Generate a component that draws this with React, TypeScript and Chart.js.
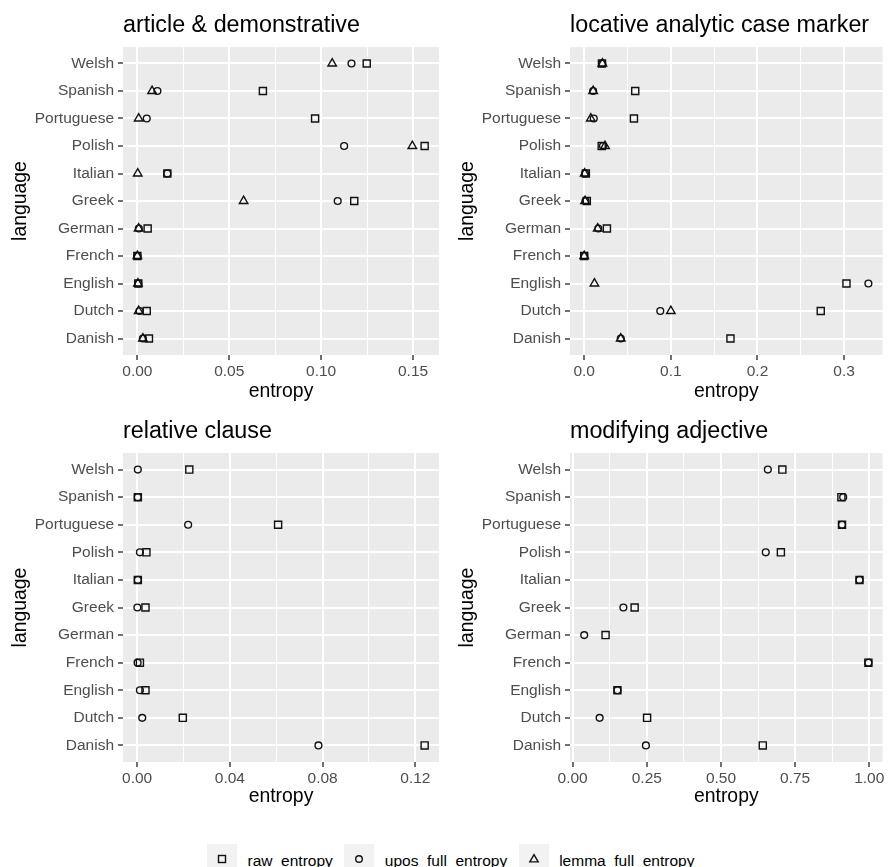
import React, { useEffect, useRef } from "react";
import { Chart, registerables } from "chart.js";

Chart.register(...registerables);

const FONT = '"Liberation Sans", Arial, Helvetica, sans-serif';

// languages, bottom (1) to top (11)
const languages = ["Danish", "Dutch", "English", "French", "German", "Greek", "Italian", "Polish", "Portuguese", "Spanish", "Welsh"];

const seriesNames = ["raw_entropy", "upos_full_entropy", "lemma_full_entropy"];

// article & demonstrative
const artRaw = [0.0063, 0.0051, 0.0005, 0.0, 0.0056, 0.118, 0.0163, 0.1563, 0.0967, 0.0683, 0.1248];
const artUpos = [0.003, 0.0012, 0.0005, 0.0, 0.0008, 0.109, 0.0163, 0.1125, 0.0051, 0.0109, 0.1165];
const artLemma = [0.003, 0.0007, 0.0003, 0.0, 0.0007, 0.0578, 0.0002, 0.1496, 0.0007, 0.008, 0.106];
const artTicks = [0, 0.05, 0.1, 0.15];
const artTickLabels = ["0.00", "0.05", "0.10", "0.15"];

// locative analytic case marker
const locRaw = [0.1688, 0.273, 0.3027, 0.0, 0.0262, 0.003, 0.0019, 0.0202, 0.0574, 0.0589, 0.0205];
const locUpos = [0.0422, 0.0878, 0.328, 0.0, 0.0163, 0.0015, 0.001, 0.0217, 0.011, 0.0103, 0.0208];
const locLemma = [0.0422, 0.1, 0.0118, 0.0, 0.0156, 0.001, 0.0005, 0.024, 0.0076, 0.0103, 0.021];
const locTicks = [0, 0.1, 0.2, 0.3];
const locTickLabels = ["0.0", "0.1", "0.2", "0.3"];

// relative clause
const relRaw = [0.124, 0.0197, 0.0036, 0.0012, null, 0.0036, 0.0003, 0.004, 0.0608, 0.0003, 0.0225];
const relUpos = [0.0782, 0.0022, 0.0012, 0.0002, null, 0.0001, 0.0003, 0.0012, 0.022, 0.0003, 0.0003];
const relLemma = [null, null, null, null, null, null, null, null, null, null, null];
const relTicks = [0, 0.04, 0.08, 0.12];
const relTickLabels = ["0.00", "0.04", "0.08", "0.12"];

// modifying adjective
const adjRaw = [0.641, 0.251, 0.151, 0.997, 0.111, 0.209, 0.967, 0.702, 0.908, 0.906, 0.707];
const adjUpos = [0.247, 0.091, 0.151, 0.997, 0.039, 0.171, 0.967, 0.651, 0.908, 0.912, 0.658];
const adjLemma = [null, null, null, null, null, null, null, null, null, null, null];
const adjTicks = [0, 0.25, 0.5, 0.75, 1.0];
const adjTickLabels = ["0.00", "0.25", "0.50", "0.75", "1.00"];

const titlePlugin = {
  id: "panelTitle",
  beforeDraw(chart: any, _args: any, opts: any) {
    const { ctx, chartArea } = chart;
    ctx.save();
    ctx.fillStyle = "#EBEBEB";
    ctx.fillRect(chartArea.left, chartArea.top, chartArea.right - chartArea.left, chartArea.bottom - chartArea.top);
    ctx.fillStyle = "#000000";
    ctx.font = `23.3px ${FONT}`;
    ctx.textBaseline = "alphabetic";
    ctx.textAlign = "left";
    ctx.fillText(opts.text || "", chartArea.left, chartArea.top - 14.7);
    ctx.restore();
  },
};

type PanelProps = {
  title: string;
  raw: (number | null)[];
  upos: (number | null)[];
  lemma: (number | null)[];
  ticks: number[];
  tickLabels: string[];
  left: number;
  top: number;
  width: number;
  height: number;
  plotLeft: number;
  plotTop: number;
  plotRight: number;
  plotBottom: number;
  xTitleGap: number;
};

function Panel(p: PanelProps) {
  const ref = useRef<HTMLCanvasElement>(null);
  useEffect(() => {
    if (!ref.current) return;
    const all = [...p.raw, ...p.upos, ...p.lemma].filter((v) => v != null) as number[];
    const lo = Math.min(...all);
    const hi = Math.max(...all);
    const ex = (hi - lo) * 0.05;
    const minors = p.ticks.slice(1).map((t, i) => (t + p.ticks[i]) / 2);
    const majorIndex = (v: number) => p.ticks.findIndex((t) => Math.abs(t - v) < 1e-9);
    const isMajor = (ctx: any) => ctx && ctx.tick && majorIndex(ctx.tick.value) >= 0;
    const toPoints = (vals: (number | null)[]) =>
      vals.flatMap((v, i) => (v == null ? [] : [{ x: v, y: i + 1 }]));
    const mk = (label: string, vals: (number | null)[], style: string, r: number) => ({
      label,
      data: toPoints(vals),
      pointStyle: style,
      pointRadius: r,
      pointBorderColor: "#111111",
      pointBackgroundColor: "rgba(0,0,0,0)",
      pointBorderWidth: 1.4,
      showLine: false,
      clip: false as any,
    });
    const XH = p.height - p.plotBottom;
    const titleFont = 19.4;
    const lh = titleFont * 1.2;
    const chart = new Chart(ref.current, {
      type: "scatter",
      data: {
        datasets: [
          mk(seriesNames[0], p.raw, "rect", 5.0),
          mk(seriesNames[1], p.upos, "circle", 3.4),
          mk(seriesNames[2], p.lemma, "triangle", 4.9),
        ],
      },
      plugins: [titlePlugin],
      options: {
        animation: false,
        responsive: false,
        events: [],
        layout: {
          padding: { left: 0, top: p.plotTop, right: p.width - p.plotRight, bottom: 0 },
        },
        plugins: {
          legend: { display: false },
          tooltip: { enabled: false },
          panelTitle: { text: p.title },
        } as any,
        scales: {
          x: {
            type: "linear",
            bounds: "data",
            min: lo - ex,
            max: hi + ex,
            afterBuildTicks: (s: any) => {
              s.ticks = [...p.ticks, ...minors].sort((a, b) => a - b).map((v) => ({ value: v }));
            },
            afterFit: (s: any) => {
              s.height = XH;
            },
            ticks: {
              autoSkip: false,
              maxRotation: 0,
              minRotation: 0,
              padding: 2,
              color: "#4D4D4D",
              font: { family: FONT, size: 15.5 },
              callback: (v: any) => {
                const k = majorIndex(Number(v));
                return k >= 0 ? p.tickLabels[k] : "";
              },
            },
            grid: {
              color: "#FFFFFF",
              lineWidth: (ctx: any) => (isMajor(ctx) ? 2 : 1),
              tickColor: (ctx: any) => (isMajor(ctx) ? "#333333" : "rgba(0,0,0,0)"),
              tickWidth: (ctx: any) => (isMajor(ctx) ? 1.4 : 0),
              tickLength: 5,
            } as any,
            border: { display: false },
            title: {
              display: true,
              text: "entropy",
              color: "#000000",
              font: { family: FONT, size: titleFont, lineHeight: 1.2 },
              padding: { top: 0, bottom: XH - p.xTitleGap - lh / 2 },
            },
          },
          y: {
            type: "linear",
            bounds: "data",
            min: 0.4,
            max: languages.length + 0.6,
            afterBuildTicks: (s: any) => {
              s.ticks = languages.map((_, i) => ({ value: i + 1 }));
            },
            afterFit: (s: any) => {
              s.width = p.plotLeft;
            },
            ticks: {
              autoSkip: false,
              padding: 4,
              color: "#4D4D4D",
              font: { family: FONT, size: 15.5 },
              callback: (v: any) => languages[Math.round(Number(v)) - 1] || "",
            },
            grid: {
              color: "#FFFFFF",
              lineWidth: 2,
              tickColor: "#333333",
              tickWidth: 1.4,
              tickLength: 5,
            } as any,
            border: { display: false },
            title: {
              display: true,
              text: "language",
              color: "#000000",
              font: { family: FONT, size: titleFont, lineHeight: 1.2 },
              padding: { top: p.plotLeft - 102 - lh / 2, bottom: 0 },
            },
          },
        },
      } as any,
    });
    return () => chart.destroy();
  }, []);
  return (
    <canvas
      ref={ref}
      width={p.width}
      height={p.height}
      style={{ position: "absolute", left: p.left, top: p.top, width: p.width, height: p.height }}
    />
  );
}

function LegendIcon({ kind }: { kind: number }) {
  return (
    <svg width={14} height={14} viewBox="0 0 14 14">
      {kind === 0 && <rect x={3.5} y={3.5} width={7} height={7} fill="none" stroke="#111" strokeWidth={1.4} />}
      {kind === 1 && <circle cx={7} cy={7} r={3.3} fill="none" stroke="#111" strokeWidth={1.4} />}
      {kind === 2 && <polygon points="7,2.6 11.2,9.9 2.8,9.9" fill="none" stroke="#111" strokeWidth={1.4} />}
    </svg>
  );
}

export default function App() {
  return (
    <div
      style={{
        position: "fixed",
        left: 0,
        top: 0,
        width: 889,
        height: 867,
        overflow: "hidden",
        background: "#FFFFFF",
        fontFamily: FONT,
      }}
    >
      <Panel title="article & demonstrative" raw={artRaw} upos={artUpos} lemma={artLemma} ticks={artTicks} tickLabels={artTickLabels}
        left={0} top={0} width={447} height={410} plotLeft={123} plotTop={47} plotRight={439} plotBottom={355} xTitleGap={36.6} />
      <Panel title="locative analytic case marker" raw={locRaw} upos={locUpos} lemma={locLemma} ticks={locTicks} tickLabels={locTickLabels}
        left={447} top={0} width={442} height={410} plotLeft={123} plotTop={47} plotRight={439} plotBottom={355} xTitleGap={36.6} />
      <Panel title="relative clause" raw={relRaw} upos={relUpos} lemma={relLemma} ticks={relTicks} tickLabels={relTickLabels}
        left={0} top={406} width={447} height={410} plotLeft={123} plotTop={47} plotRight={439} plotBottom={356} xTitleGap={35} />
      <Panel title="modifying adjective" raw={adjRaw} upos={adjUpos} lemma={adjLemma} ticks={adjTicks} tickLabels={adjTickLabels}
        left={447} top={406} width={442} height={410} plotLeft={123} plotTop={47} plotRight={439} plotBottom={356} xTitleGap={35} />
      <div
        style={{
          position: "absolute",
          left: 207,
          top: 844,
          display: "flex",
          alignItems: "center",
          fontSize: 15.5,
          color: "#000",
          whiteSpace: "nowrap",
        }}
      >
        {seriesNames.map((name, i) => (
          <React.Fragment key={name}>
            <div
              style={{
                width: 30,
                height: 30,
                background: "#F2F2F2",
                display: "flex",
                alignItems: "center",
                justifyContent: "center",
              }}
            >
              <LegendIcon kind={i} />
            </div>
            <span style={{ marginLeft: 10.5, marginRight: 11.5, position: "relative", top: 1.5 }}>{name}</span>
          </React.Fragment>
        ))}
      </div>
    </div>
  );
}
